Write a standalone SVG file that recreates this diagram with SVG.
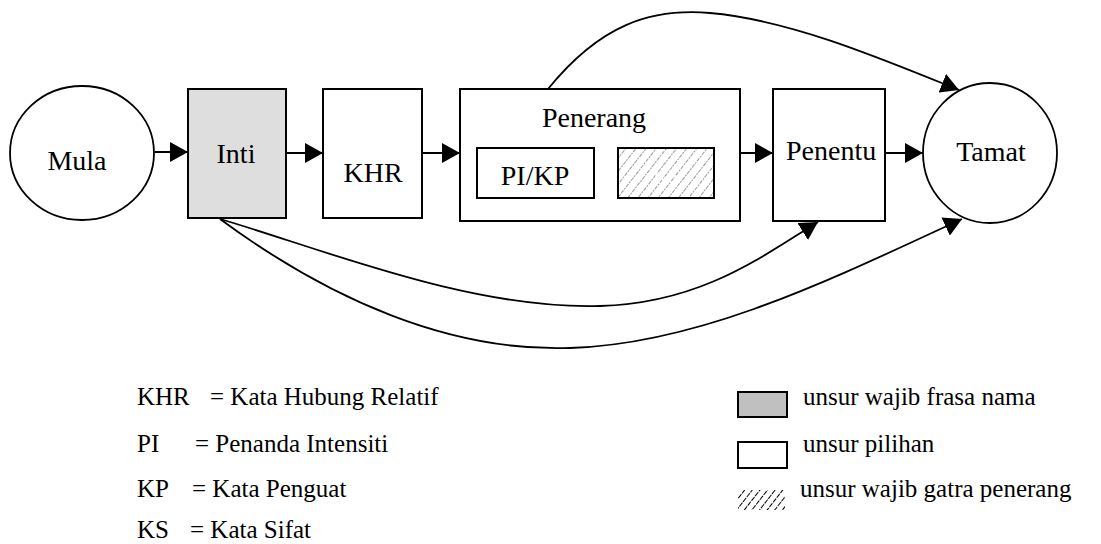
<svg xmlns="http://www.w3.org/2000/svg" width="1101" height="544" viewBox="0 0 1101 544">
<style>
text{font-family:"Liberation Serif","Times New Roman",serif;font-size:28px;fill:#000}
.box{fill:#fff;stroke:#000;stroke-width:2}
.c{fill:#fff;stroke:#000;stroke-width:1.8}
.con{fill:none;stroke:#000;stroke-width:1.8;marker-end:url(#ah)}
.mid{text-anchor:middle}
.leg{font-size:25px}
</style>
<defs>
<marker id="ah" viewBox="0 0 18 20" markerWidth="18" markerHeight="20" refX="18" refY="10" orient="auto" markerUnits="userSpaceOnUse">
<path d="M0,0 L18,10 L0,20 z" fill="#000"/>
</marker>
<pattern id="hatch" patternUnits="userSpaceOnUse" width="8" height="8" patternTransform="rotate(38)">
<rect width="8" height="8" fill="#fff"/>
<line x1="0" y1="0" x2="0" y2="8" stroke="#999" stroke-width="2" stroke-dasharray="2 1"/>
</pattern>
<pattern id="hatchL" patternUnits="userSpaceOnUse" width="6" height="6" patternTransform="rotate(38)">
<rect width="6" height="6" fill="#fff"/>
<line x1="0" y1="0" x2="0" y2="6" stroke="#000" stroke-width="2" stroke-dasharray="4 1"/>
</pattern>
</defs>

<g id="connectors">
<line class="con" x1="155" y1="152" x2="188" y2="152"/>
<line class="con" x1="286" y1="153" x2="323" y2="153"/>
<line class="con" x1="422" y1="153" x2="460" y2="153"/>
<line class="con" x1="740" y1="153" x2="773" y2="153"/>
<line class="con" x1="885" y1="153" x2="923" y2="153"/>
<path class="con" d="M548,89 C600,25 650,8 710,13 C790,20 880,58 959,90"/>
<path class="con" d="M220,219 C320,248 470,310 600,306 C700,303 760,258 818,222"/>
<path class="con" d="M220,219 C330,300 450,352 570,348 C700,344 830,280 962,219"/>
</g>

<g id="mula">
<ellipse class="c" cx="82" cy="153" rx="72" ry="67"/>
<text x="77" y="170" class="mid">Mula</text>
</g>
<g id="inti">
<rect class="box" x="188" y="89" width="98" height="129" style="fill:#dedede"/>
<text x="236" y="163" class="mid">Inti</text>
</g>
<g id="khr">
<rect class="box" x="323" y="89" width="99" height="129"/>
<text x="373" y="182" class="mid">KHR</text>
</g>
<g id="penerang">
<rect class="box" x="460" y="89" width="280" height="132"/>
<text x="594" y="127" class="mid">Penerang</text>
<rect class="box" x="477" y="148" width="117" height="50"/>
<text x="535" y="185" class="mid">PI/KP</text>
<rect class="box" x="618" y="148" width="96" height="50" style="fill:url(#hatch)"/>
<text x="666" y="183" class="mid" style="fill:#fff;font-size:20px">KS</text>
</g>
<g id="penentu">
<rect class="box" x="773" y="89" width="112" height="132"/>
<text x="786" y="160">Penentu</text>
</g>
<g id="tamat">
<ellipse class="c" cx="990" cy="153" rx="67" ry="70"/>
<text x="991" y="161" class="mid">Tamat</text>
</g>

<g id="legend">
<text x="137" y="405" class="leg">KHR</text><text x="210" y="405" class="leg">= Kata Hubung Relatif</text>
<text x="137" y="452" class="leg">PI</text><text x="195" y="452" class="leg">= Penanda Intensiti</text>
<text x="137" y="497" class="leg">KP</text><text x="192" y="497" class="leg">= Kata Penguat</text>
<text x="137" y="538" class="leg">KS</text><text x="190" y="538" class="leg">= Kata Sifat</text>
<rect x="738" y="392" width="49" height="25" fill="#c0c0c0" stroke="#000" stroke-width="2"/>
<text x="803" y="405" class="leg">unsur wajib frasa nama</text>
<rect x="738" y="442" width="49" height="26" fill="#fff" stroke="#000" stroke-width="2"/>
<text x="803" y="452" class="leg">unsur pilihan</text>
<rect x="738" y="490" width="47" height="20" fill="url(#hatchL)" stroke="none"/>
<text x="800" y="497" class="leg">unsur wajib gatra penerang</text>
</g>
</svg>
